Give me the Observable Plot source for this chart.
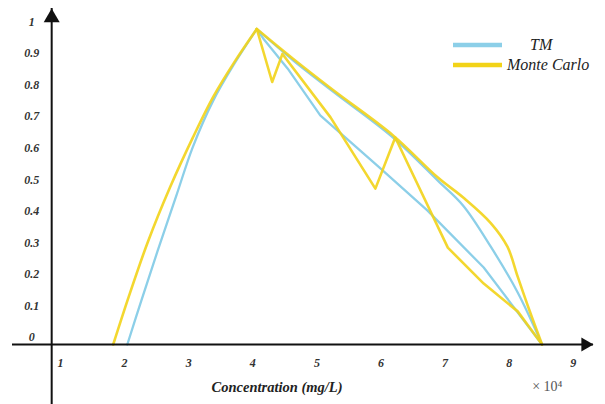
<!DOCTYPE html>
<html><head><meta charset="utf-8">
<script src="https://cdn.jsdelivr.net/npm/d3@7"></script>
<script src="https://cdn.jsdelivr.net/npm/@observablehq/plot@0.6"></script>
<style>
body{margin:0;background:#fff;}
#wrap{position:relative;width:605px;height:404px;font-family:"Liberation Serif","Times New Roman",serif;}
#wrap svg text{font-family:"Liberation Serif","Times New Roman",serif;}
#legend{position:absolute;left:453px;top:35px;font-style:italic;font-size:16px;color:#222;}
.row{display:flex;align-items:center;height:20px;white-space:nowrap;}
.row svg{display:block;}
</style></head>
<body><div id="wrap"><div id="legend"></div></div>
<script>
// ---- data (x in units of 10^4 mg/L, y = membership) ----
const xTickValues = [1, 2, 3, 4, 5, 6, 7, 8, 9];
const yTickValues = [0, 0.1, 0.2, 0.3, 0.4, 0.5, 0.6, 0.7, 0.8, 0.9, 1];
const yTickLabels = ["0", "0.1", "0.2", "0.3", "0.4", "0.5", "0.6", "0.7", "0.8", "0.9", "1"];
const seriesNames = ["TM", "Monte Carlo"];
const xAxisTitle = "Concentration (mg/L)";
const xMultiplier = "× 10⁴";

// TM branches
const tmLeft = [[1.98,0],[2.2,0.14],[2.45,0.295],[2.75,0.475],[3.0,0.625],[3.32,0.773],[3.65,0.89],[4,1]];
const tmUpper = [[4,1],[4.57,0.9],[5.2,0.8],[6.13,0.655],[6.82,0.52],[7.22,0.44],[7.65,0.31],[8.07,0.165],[8.45,0]];
const tmMiddle = [[4,1],[4.1,0.97],[4.48,0.875],[4.99,0.726],[5.88,0.567],[6.66,0.425],[7.54,0.244],[8.45,0]];

// Monte Carlo branches
const mcLeft = [[1.76,0],[2.0,0.15],[2.3,0.325],[2.65,0.5],[3.0,0.655],[3.32,0.785],[3.65,0.895],[4,1]];
const mcUpper = [[4,1],[4.57,0.905],[5.2,0.805],[6.13,0.662],[6.82,0.53],[7.22,0.466],[7.65,0.385],[7.91,0.31],[8.07,0.215],[8.25,0.11],[8.45,0]];
const mcZigzag = [[4,1],[4.24,0.832],[4.4,0.921],[5.15,0.72],[5.85,0.494],[6.16,0.656],[6.98,0.307],[7.54,0.193],[8.07,0.105],[8.45,0]];

// ---- styling / layout ----
const tmColor = "#8ccfe8";
const mcColor = "#f2d318";
const axisColor = "#111";
const axisCrossX = 0.8;

const rows = (pts, name) => pts.map(([x, y]) => ({x, y, name}));
const tmSmooth = [...rows(tmLeft, "left"), ...rows(tmUpper, "upper")];
const tmLinear = rows(tmMiddle, "middle");
const mcSmooth = [...rows(mcLeft, "left"), ...rows(mcUpper, "upper")];
const mcLinear = rows(mcZigzag, "zigzag");

const tickStyle = {fontStyle: "italic", fontWeight: "bold", fontSize: 12, fill: "#333"};

const chart = Plot.plot({
  width: 605, height: 404,
  marginTop: 8, marginRight: 12, marginBottom: 0, marginLeft: 12,
  x: {domain: [1, 9], range: [64, 576.8], axis: null},
  y: {domain: [0, 1], range: [344, 28.5], axis: null},
  style: {fontFamily: "'Liberation Serif', 'Times New Roman', serif", background: "transparent"},
  marks: [
    Plot.line(tmSmooth, {x: "x", y: "y", z: "name", stroke: tmColor, strokeWidth: 2.3, curve: "catmull-rom"}),
    Plot.line(tmLinear, {x: "x", y: "y", z: "name", stroke: tmColor, strokeWidth: 2.3}),
    Plot.line(mcSmooth, {x: "x", y: "y", z: "name", stroke: mcColor, strokeWidth: 2.6, strokeOpacity: 0.9, curve: "catmull-rom"}),
    Plot.line(mcLinear, {x: "x", y: "y", z: "name", stroke: mcColor, strokeWidth: 2.6, strokeOpacity: 0.9}),
    Plot.ruleY([0], {stroke: axisColor, strokeWidth: 2}),
    Plot.ruleX([axisCrossX], {stroke: axisColor, strokeWidth: 2}),
    Plot.dot([axisCrossX], {x: d => d, frameAnchor: "top", dy: 9.24, symbol: "triangle", r: 5.94, fill: axisColor, stroke: "none"}),
    Plot.dot([0], {y: d => d, frameAnchor: "right", dx: -8.1, symbol: "triangle", r: 5.2, rotate: 90, fill: axisColor, stroke: "none"}),
    Plot.text(xTickValues, {x: d => d, y: () => 0, text: d => String(d), dx: -4, dy: 19, ...tickStyle}),
    Plot.text(yTickValues, {x: () => axisCrossX, y: d => d, text: (d, i) => yTickLabels[i], dx: -20, dy: -7, ...tickStyle}),
    Plot.text([xAxisTitle], {text: d => d, frameAnchor: "bottom", dx: -26, dy: -13, fontStyle: "italic", fontWeight: "bold", fontSize: 14.5, fill: "#222"}),
    Plot.text([xMultiplier], {text: d => d, frameAnchor: "bottom-right", dx: -31, dy: -14, fontSize: 14, fill: "#555"})
  ]
});
document.getElementById("wrap").prepend(chart);

// legend
const legend = document.getElementById("legend");
const legendColors = [tmColor, mcColor];
const legendGaps = [28, 5];
seriesNames.forEach((name, i) => {
  const row = document.createElement("div");
  row.className = "row";
  row.innerHTML = `<svg width="49" height="20"><line x1="0" x2="49" y1="10" y2="10" stroke="${legendColors[i]}" stroke-width="4.5"/></svg><span style="margin-left:${legendGaps[i]}px">${name}</span>`;
  legend.appendChild(row);
});
</script>
</body></html>
